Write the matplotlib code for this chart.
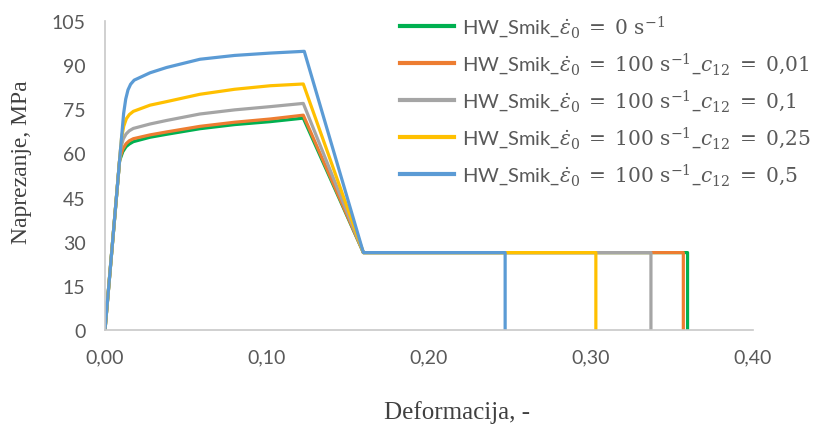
import matplotlib
matplotlib.use("Agg")
import matplotlib.pyplot as plt
from matplotlib.ticker import FuncFormatter

plt.rcParams['mathtext.fontset'] = 'dejavuserif'

# ---- data (strain [-], stress [MPa]) ----
labels = [
    r"HW_Smik_$\dot{\varepsilon}_0\;=\;0\ \mathrm{s}^{-1}$",
    r"HW_Smik_$\dot{\varepsilon}_0\;=\;100\ \mathrm{s}^{-1}$_$c_{12}\;=\;0{,}01$",
    r"HW_Smik_$\dot{\varepsilon}_0\;=\;100\ \mathrm{s}^{-1}$_$c_{12}\;=\;0{,}1$",
    r"HW_Smik_$\dot{\varepsilon}_0\;=\;100\ \mathrm{s}^{-1}$_$c_{12}\;=\;0{,}25$",
    r"HW_Smik_$\dot{\varepsilon}_0\;=\;100\ \mathrm{s}^{-1}$_$c_{12}\;=\;0{,}5$",
]
colors = ["#00B050", "#ED7D31", "#A5A5A5", "#FFC000", "#5B9BD5"]

x_green = [0, 0.0090, 0.0110, 0.0130, 0.0150, 0.0175, 0.0278, 0.038, 0.0586, 0.080, 0.102, 0.1224, 0.1595, 0.3596, 0.3596]
y_green = [0, 57.5, 60.6, 62.3, 63.2, 64.0, 65.5, 66.5, 68.4, 69.8, 70.8, 72.0, 26.3, 26.3, 0]

x_orange = [0, 0.0091, 0.0110, 0.0130, 0.0150, 0.0175, 0.0278, 0.038, 0.0586, 0.080, 0.102, 0.1224, 0.1595, 0.357, 0.357]
y_orange = [0, 58.2, 61.5, 63.3, 64.3, 65.0, 66.3, 67.3, 69.2, 70.6, 71.7, 73.0, 26.3, 26.3, 0]

x_gray = [0, 0.0096, 0.0112, 0.0130, 0.0150, 0.0175, 0.0278, 0.038, 0.0586, 0.080, 0.102, 0.1224, 0.1595, 0.337, 0.337]
y_gray = [0, 61.4, 64.8, 66.6, 67.7, 68.5, 70.0, 71.2, 73.4, 74.8, 75.9, 77.0, 26.3, 26.3, 0]

x_yellow = [0, 0.0102, 0.0116, 0.0132, 0.0150, 0.0175, 0.0278, 0.038, 0.0586, 0.080, 0.102, 0.1224, 0.1595, 0.303, 0.303]
y_yellow = [0, 65.3, 69.3, 71.8, 73.2, 74.3, 76.4, 77.6, 80.1, 81.8, 83.0, 83.6, 26.3, 26.3, 0]

x_blue = [0, 0.0115, 0.0128, 0.0142, 0.0158, 0.0180, 0.0278, 0.038, 0.0586, 0.080, 0.102, 0.1230, 0.1595, 0.247, 0.247]
y_blue = [0, 73.6, 78.5, 81.6, 83.5, 84.9, 87.4, 89.2, 92.0, 93.3, 94.1, 94.7, 26.3, 26.3, 0]

xs = [x_green, x_orange, x_gray, x_yellow, x_blue]
ys = [y_green, y_orange, y_gray, y_yellow, y_blue]

x_ticks = [0.0, 0.1, 0.2, 0.3, 0.4]
y_ticks = [0, 15, 30, 45, 60, 75, 90, 105]

# ---- figure ----
W, H = 817, 431
fig = plt.figure(figsize=(W / 100, H / 100), dpi=100)
ax = fig.add_axes([105 / W, 1 - 331 / H, (753 - 105) / W, (331 - 22) / H])

for x, y, c, lab in zip(xs, ys, colors, labels):
    ax.plot(x, y, color=c, lw=2.3, label=lab, solid_joinstyle='round')

ax.set_xlim(0, 0.4)
ax.set_ylim(0, 105)
ax.set_xticks(x_ticks)
ax.set_yticks(y_ticks)
ax.xaxis.set_major_formatter(FuncFormatter(lambda v, p: f"{v:.2f}".replace(".", ",")))
ax.yaxis.set_major_formatter(FuncFormatter(lambda v, p: f"{v:.0f}"))

for s in ["top", "right"]:
    ax.spines[s].set_visible(False)
for s in ["left", "bottom"]:
    ax.spines[s].set_color("#C8C8C8")
    ax.spines[s].set_linewidth(1.2)

ax.tick_params(axis="both", length=0, labelcolor="#595959", labelsize=14)
ax.tick_params(axis="x", pad=13)
ax.tick_params(axis="y", pad=14)
for t in ax.get_xticklabels() + ax.get_yticklabels():
    t.set_fontfamily("Lato")

ax.set_xlabel("Deformacija, -", fontfamily="Liberation Serif", fontsize=18, color="#404040")
ax.set_ylabel("Naprezanje, MPa", fontfamily="Liberation Serif", fontsize=17, color="#404040")
ax.xaxis.set_label_coords((457.5 - 105) / 648, -(413 - 331) / 309, transform=ax.transAxes)
ax.yaxis.set_label_coords(-(105 - 21.7) / 648, (331 - 162.5) / 309, transform=ax.transAxes)
ax.xaxis.label.set_verticalalignment("center")
ax.yaxis.label.set_verticalalignment("center")

leg = ax.legend(loc="upper left", bbox_to_anchor=(400 / W, 1 - 14 / H),
                bbox_transform=fig.transFigure, frameon=False, borderpad=0,
                borderaxespad=0, handlelength=2.7, handletextpad=0.4,
                labelspacing=0.56, prop={"family": "Lato", "size": 14.5})
for t in leg.get_texts():
    t.set_color("#595959")
for l in leg.get_lines():
    l.set_linewidth(3)

fig.savefig("out.png", dpi=100)
